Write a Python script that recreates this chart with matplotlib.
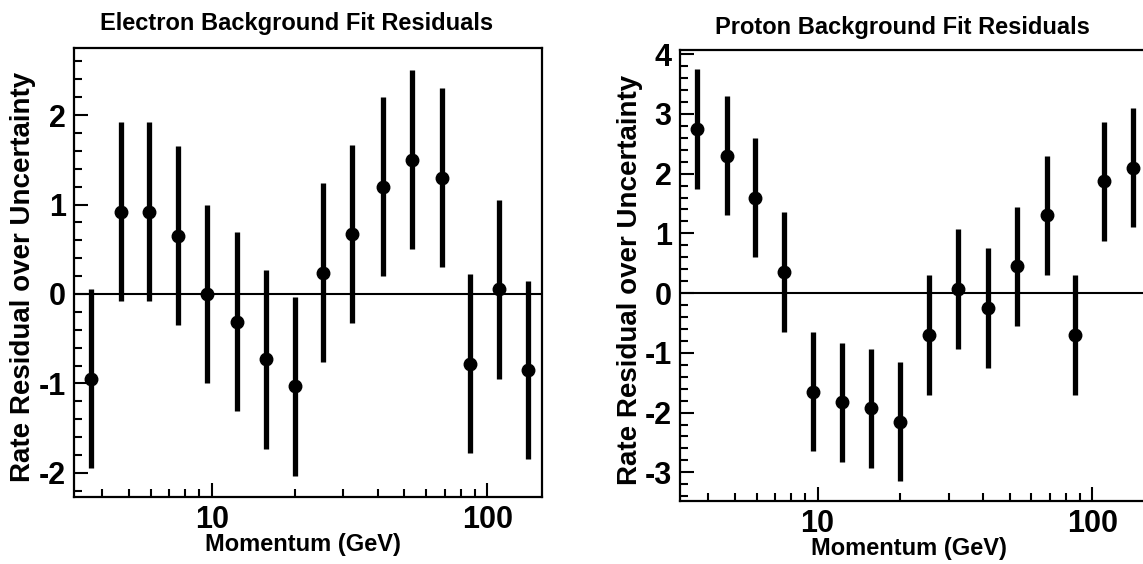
import numpy as np
import matplotlib
matplotlib.use("Agg")
import matplotlib.pyplot as plt
from matplotlib.ticker import LogLocator, MultipleLocator, NullFormatter, FixedFormatter, FixedLocator

plt.rcParams['font.family'] = ['Liberation Sans', 'DejaVu Sans']
plt.rcParams['font.weight'] = 'bold'
plt.rcParams['axes.unicode_minus'] = False

# momentum bins (GeV), same for both panels
momentum = [3.65, 4.68, 5.92, 7.55, 9.62, 12.3, 15.7, 20.0, 25.4, 32.4, 41.7, 53.1,
            68.3, 86.3, 110, 140]

electron_resid = [-0.95, 0.92, 0.92, 0.65, 0.0, -0.31, -0.73, -1.03, 0.24, 0.67,
                  1.2, 1.5, 1.3, -0.78, 0.05, -0.85]
electron_err = [1.0] * 16

proton_resid = [2.75, 2.3, 1.6, 0.35, -1.65, -1.83, -1.93, -2.15, -0.7, 0.07,
                -0.25, 0.45, 1.3, -0.7, 1.87, 2.1]
proton_err = [1.0] * 16

W, H = 1143, 564
fig = plt.figure(figsize=(W / 100, H / 100), dpi=100)


def px_axes(l, r, t, b):
    return fig.add_axes([l / W, 1 - b / H, (r - l) / W, (b - t) / H])


def draw_panel(ax, y, yerr, ylim, title, title_xy, ylab_x):
    ax.errorbar(momentum, y, yerr=yerr, fmt='o', color='black', ms=9,
                elinewidth=3.8, capsize=0)
    ax.axhline(0, color='black', lw=1.5)
    ax.set_xscale('log')
    ax.set_xlim(3.16, 158)
    ax.set_ylim(*ylim)

    ax.xaxis.set_major_locator(FixedLocator([10, 100]))
    ax.xaxis.set_major_formatter(FixedFormatter(['10', '100']))
    ax.xaxis.set_minor_locator(LogLocator(base=10, subs=np.arange(2, 10)))
    ax.xaxis.set_minor_formatter(NullFormatter())
    ax.yaxis.set_major_locator(MultipleLocator(1))
    ax.yaxis.set_minor_locator(MultipleLocator(0.2))

    ax.tick_params(which='both', direction='in', top=False, right=False, width=1.5)
    ax.tick_params(which='major', length=10, labelsize=22)
    ax.tick_params(which='minor', length=5.5)
    ax.tick_params(axis='x', pad=6)
    ax.tick_params(axis='y', pad=6)
    for lab in ax.get_xticklabels() + ax.get_yticklabels():
        lab.set_fontweight('bold')
    for s in ax.spines.values():
        s.set_linewidth(1.6)

    ax.set_xlabel('Momentum (GeV)', fontsize=17, fontweight='bold')
    ax.xaxis.set_label_coords(0.49, -0.105)
    ax.xaxis.label.set_va('center')
    ax.set_ylabel('Rate Residual over Uncertainty', fontsize=20, fontweight='bold')
    ax.yaxis.set_label_coords(ylab_x, 0.49)
    ax.yaxis.label.set_va('center')
    ax.text(title_xy[0], title_xy[1], title, transform=ax.transAxes,
            ha='center', va='center', fontsize=17, fontweight='bold')


ax1 = px_axes(74, 542, 48, 497)
draw_panel(ax1, electron_resid, electron_err, (-2.27, 2.75),
           'Electron Background Fit Residuals', (0.476, 1.055), -0.11)

ax2 = px_axes(680, 1147, 50, 501)
draw_panel(ax2, proton_resid, proton_err, (-3.48, 4.07),
           'Proton Background Fit Residuals', (0.477, 1.05), -0.108)

fig.savefig('out.png', dpi=100)
